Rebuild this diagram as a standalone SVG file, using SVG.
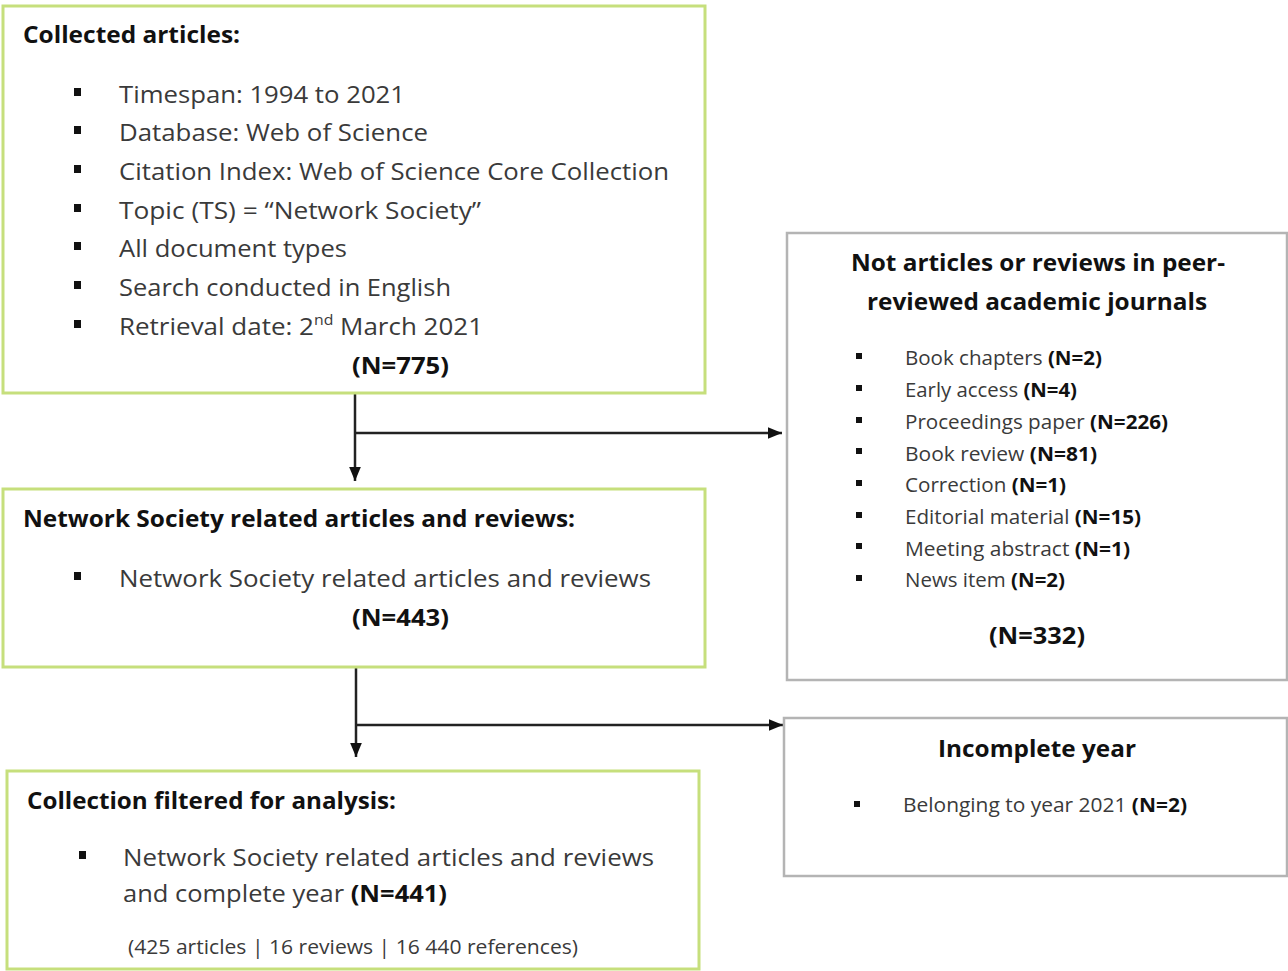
<svg xmlns="http://www.w3.org/2000/svg" width="1288" height="971" viewBox="0 0 1288 971">
<defs>
<style>
text{font-family:"Open Sans","Noto Sans","Liberation Sans",sans-serif;fill:#3a3a3a}
.b{font-weight:bold;fill:#111}
.g{fill:#fff;stroke:#c6df7c;stroke-width:3}
.r{fill:#fff;stroke:#b4b4b4;stroke-width:2.5}
.t{font-size:23px}
.s{font-size:20px}
.c{stroke:#222;stroke-width:2.5;fill:none}
.bl{fill:#111}
</style>
<marker id="ah" viewBox="0 0 12 10" refX="12" refY="5" markerWidth="5.6" markerHeight="5" markerUnits="strokeWidth" orient="auto">
<path d="M0,0 L12,5 L0,10 z" fill="#111"/>
</marker>
</defs>
<rect width="1288" height="971" fill="#fff"/>

<g id="connectors">
<path class="c" d="M355,393 V481" marker-end="url(#ah)"/>
<path class="c" d="M355,433 H782" marker-end="url(#ah)"/>
<path class="c" d="M356,667 V757" marker-end="url(#ah)"/>
<path class="c" d="M356,725 H783" marker-end="url(#ah)"/>
</g>

<g id="collected">
<rect class="g" x="3" y="6" width="702" height="387"/>
<text class="b t" x="23" y="43" textLength="217" lengthAdjust="spacingAndGlyphs">Collected articles:</text>
<rect class="bl" x="74" y="88" width="7" height="8"/>
<rect class="bl" x="74" y="126" width="7" height="8"/>
<rect class="bl" x="74" y="165" width="7" height="8"/>
<rect class="bl" x="74" y="204" width="7" height="8"/>
<rect class="bl" x="74" y="242" width="7" height="8"/>
<rect class="bl" x="74" y="281" width="7" height="8"/>
<rect class="bl" x="74" y="320" width="7" height="8"/>
<text class="t" x="119" y="103" textLength="286" lengthAdjust="spacingAndGlyphs">Timespan: 1994 to 2021</text>
<text class="t" x="119" y="141" textLength="309" lengthAdjust="spacingAndGlyphs">Database: Web of Science</text>
<text class="t" x="119" y="180" textLength="550" lengthAdjust="spacingAndGlyphs">Citation Index: Web of Science Core Collection</text>
<text class="t" x="119" y="219" textLength="362" lengthAdjust="spacingAndGlyphs">Topic (TS) = “Network Society”</text>
<text class="t" x="119" y="257" textLength="228" lengthAdjust="spacingAndGlyphs">All document types</text>
<text class="t" x="119" y="296" textLength="332" lengthAdjust="spacingAndGlyphs">Search conducted in English</text>
<text class="t" x="119" y="335" textLength="364" lengthAdjust="spacingAndGlyphs">Retrieval date: 2<tspan font-size="14" dy="-10">nd</tspan><tspan dy="10"> March 2021</tspan></text>
<text class="b t" x="352" y="374" textLength="97" lengthAdjust="spacingAndGlyphs">(N=775)</text>
</g>

<g id="related">
<rect class="g" x="3" y="489" width="702" height="178"/>
<text class="b t" x="23" y="527" textLength="552" lengthAdjust="spacingAndGlyphs">Network Society related articles and reviews:</text>
<rect class="bl" x="74" y="572" width="7" height="8"/>
<text class="t" x="119" y="587" textLength="532" lengthAdjust="spacingAndGlyphs">Network Society related articles and reviews</text>
<text class="b t" x="352" y="626" textLength="97" lengthAdjust="spacingAndGlyphs">(N=443)</text>
</g>

<g id="filtered">
<rect class="g" x="7" y="771" width="692" height="198"/>
<text class="b t" x="27" y="809" textLength="369" lengthAdjust="spacingAndGlyphs">Collection filtered for analysis:</text>
<rect class="bl" x="79" y="851" width="7" height="8"/>
<text class="t" x="123" y="866" textLength="531" lengthAdjust="spacingAndGlyphs">Network Society related articles and reviews</text>
<text class="t" x="123" y="902" textLength="324" lengthAdjust="spacingAndGlyphs">and complete year <tspan class="b">(N=441)</tspan></text>
<text class="s" x="128" y="954" textLength="450" lengthAdjust="spacingAndGlyphs">(425 articles | 16 reviews | 16 440 references)</text>
</g>

<g id="excluded">
<rect class="r" x="787" y="233" width="500" height="447"/>
<text class="b t" x="1038" y="271" text-anchor="middle" textLength="374" lengthAdjust="spacingAndGlyphs">Not articles or reviews in peer-</text>
<text class="b t" x="1037" y="310" text-anchor="middle" textLength="340" lengthAdjust="spacingAndGlyphs">reviewed academic journals</text>
<rect class="bl" x="856" y="353" width="6" height="6"/>
<rect class="bl" x="856" y="385" width="6" height="6"/>
<rect class="bl" x="856" y="417" width="6" height="6"/>
<rect class="bl" x="856" y="448" width="6" height="6"/>
<rect class="bl" x="856" y="480" width="6" height="6"/>
<rect class="bl" x="856" y="512" width="6" height="6"/>
<rect class="bl" x="856" y="543" width="6" height="6"/>
<rect class="bl" x="856" y="575" width="6" height="6"/>
<text class="s" x="905" y="365" textLength="197" lengthAdjust="spacingAndGlyphs">Book chapters <tspan class="b">(N=2)</tspan></text>
<text class="s" x="905" y="397" textLength="172" lengthAdjust="spacingAndGlyphs">Early access <tspan class="b">(N=4)</tspan></text>
<text class="s" x="905" y="429" textLength="263" lengthAdjust="spacingAndGlyphs">Proceedings paper <tspan class="b">(N=226)</tspan></text>
<text class="s" x="905" y="461" textLength="192" lengthAdjust="spacingAndGlyphs">Book review <tspan class="b">(N=81)</tspan></text>
<text class="s" x="905" y="492" textLength="161" lengthAdjust="spacingAndGlyphs">Correction <tspan class="b">(N=1)</tspan></text>
<text class="s" x="905" y="524" textLength="236" lengthAdjust="spacingAndGlyphs">Editorial material <tspan class="b">(N=15)</tspan></text>
<text class="s" x="905" y="556" textLength="225" lengthAdjust="spacingAndGlyphs">Meeting abstract <tspan class="b">(N=1)</tspan></text>
<text class="s" x="905" y="587" textLength="160" lengthAdjust="spacingAndGlyphs">News item <tspan class="b">(N=2)</tspan></text>
<text class="b t" x="1037" y="644" text-anchor="middle" textLength="96" lengthAdjust="spacingAndGlyphs">(N=332)</text>
</g>

<g id="incomplete">
<rect class="r" x="784" y="718" width="503" height="158"/>
<text class="b t" x="1037" y="757" text-anchor="middle" textLength="198" lengthAdjust="spacingAndGlyphs">Incomplete year</text>
<rect class="bl" x="854" y="801" width="6" height="6"/>
<text class="s" x="903" y="812" textLength="284" lengthAdjust="spacingAndGlyphs">Belonging to year 2021 <tspan class="b">(N=2)</tspan></text>
</g>
</svg>
